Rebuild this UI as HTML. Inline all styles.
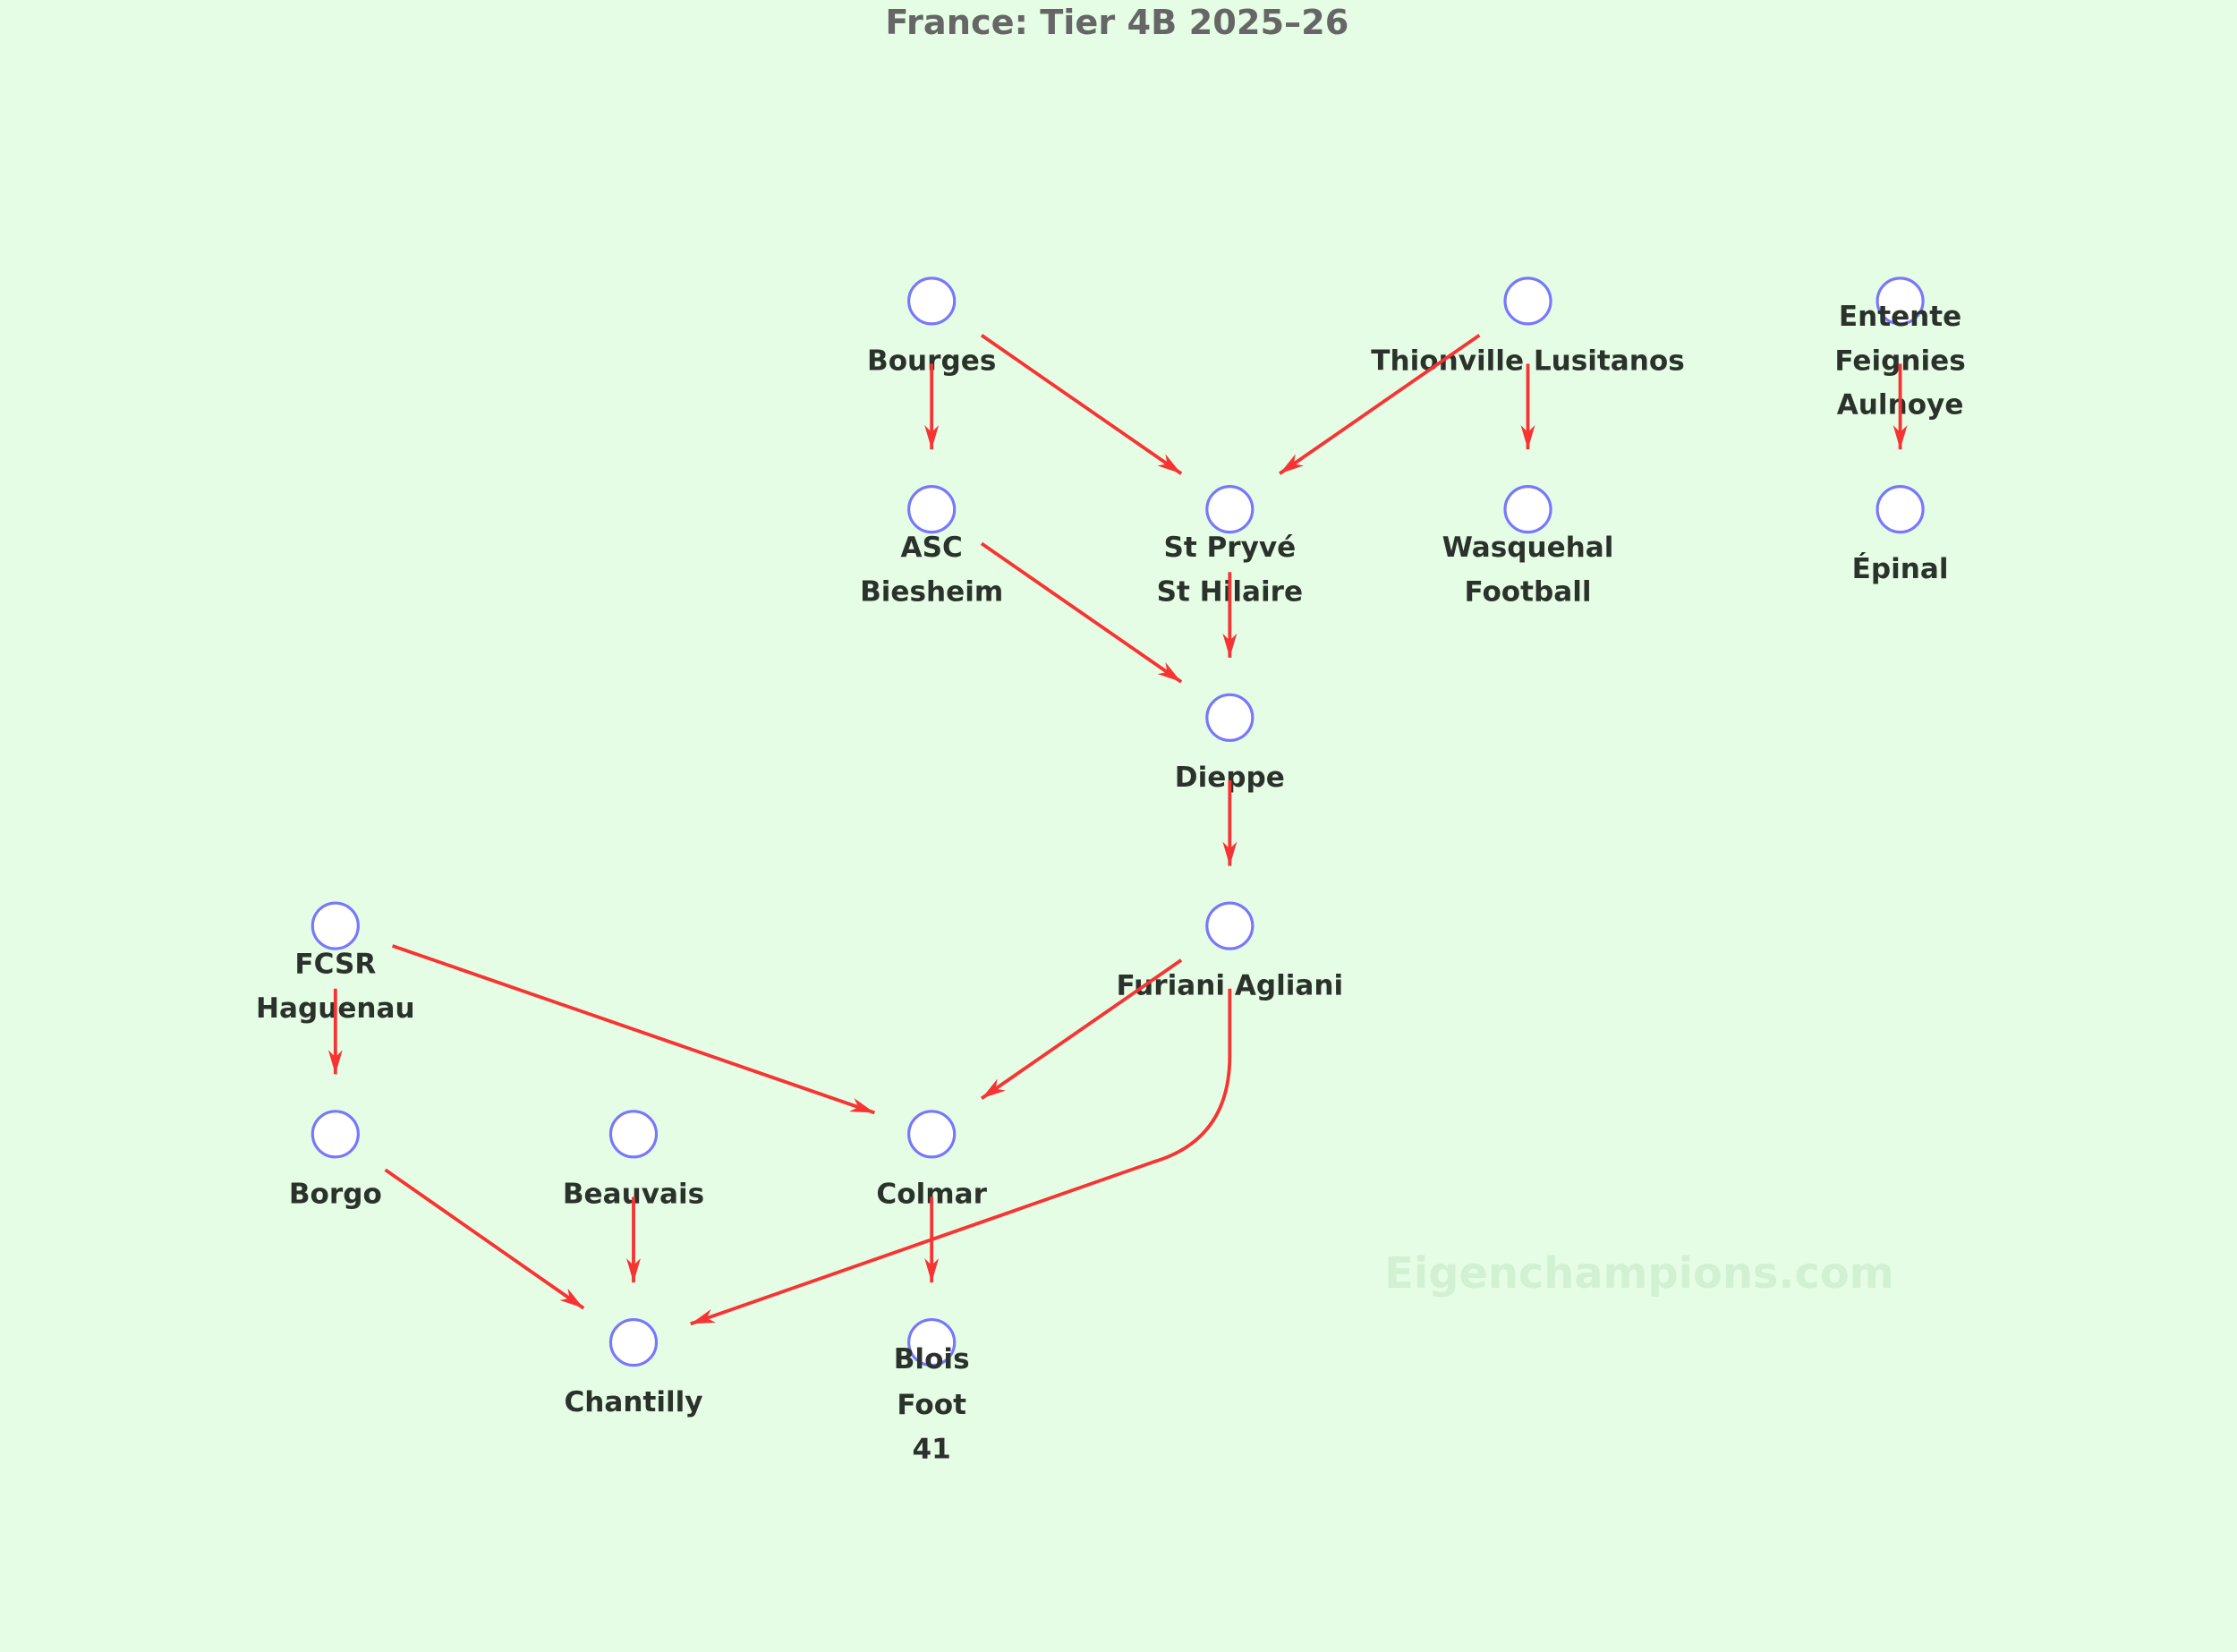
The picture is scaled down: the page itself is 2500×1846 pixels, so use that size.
<!DOCTYPE html>
<html><head><meta charset="utf-8"><style>
html,body{margin:0;padding:0;background:#e5fde5;}
svg{display:block;}
text{font-family:"DejaVu Sans","Liberation Sans",sans-serif;font-weight:bold;}
</style></head><body>
<svg width="2500" height="1846" viewBox="0 0 1568 1158" xmlns="http://www.w3.org/2000/svg">
<rect width="1568" height="1158" fill="#e5fde5"/>
<defs>
<marker id="a" viewBox="0 0 17 10" refX="17" refY="5" markerWidth="17" markerHeight="10" markerUnits="userSpaceOnUse" orient="auto">
<path d="M0,0 L17,5 L0,10 L5,5 Z" fill="#f83333"/>
</marker>
</defs>
<text x="783" y="16" text-anchor="middle" dominant-baseline="central" font-size="24" fill="#666">France: Tier 4B 2025–26</text>
<text x="1149" y="893" text-anchor="middle" dominant-baseline="central" font-size="30" fill="#d2f0d2">Eigenchampions.com</text>
<g fill="#fff" stroke="#7777ff" stroke-width="2">
<circle cx="653" cy="211" r="16"/><circle cx="1071" cy="211" r="16"/><circle cx="1332" cy="211" r="16"/>
<circle cx="653" cy="357" r="16"/><circle cx="862" cy="357" r="16"/><circle cx="1071" cy="357" r="16"/><circle cx="1332" cy="357" r="16"/>
<circle cx="862" cy="503" r="16"/>
<circle cx="235" cy="649" r="16"/><circle cx="862" cy="649" r="16"/>
<circle cx="235" cy="795" r="16"/><circle cx="444" cy="795" r="16"/><circle cx="653" cy="795" r="16"/>
<circle cx="444" cy="941" r="16"/><circle cx="653" cy="941" r="16"/>
</g>
<g font-size="19.5" fill="#2b322b" text-anchor="middle" dominant-baseline="central">
<text x="653" y="253">Bourges</text>
<text x="1071" y="253">Thionville Lusitanos</text>
<text x="1332" y="222">Entente</text><text x="1332" y="253">Feignies</text><text x="1332" y="284">Aulnoye</text>
<text x="653" y="384">ASC</text><text x="653" y="415">Biesheim</text>
<text x="862" y="384">St Pryvé</text><text x="862" y="415">St Hilaire</text>
<text x="1071" y="384">Wasquehal</text><text x="1071" y="415">Football</text>
<text x="1332" y="399">Épinal</text>
<text x="862" y="545">Dieppe</text>
<text x="235" y="676">FCSR</text><text x="235" y="707">Haguenau</text>
<text x="862" y="691">Furiani Agliani</text>
<text x="235" y="837">Borgo</text>
<text x="444" y="837">Beauvais</text>
<text x="653" y="837">Colmar</text>
<text x="444" y="983">Chantilly</text>
<text x="653" y="953">Blois</text><text x="653" y="985">Foot</text><text x="653" y="1016">41</text>
</g>
<g stroke="#f83333" stroke-width="2.4" fill="none" marker-end="url(#a)">
<line x1="653" y1="255" x2="653" y2="315"/>
<line x1="688" y1="235" x2="828" y2="332"/>
<line x1="1037" y1="235" x2="897" y2="332"/>
<line x1="1071" y1="255" x2="1071" y2="315"/>
<line x1="1332" y1="255" x2="1332" y2="315"/>
<line x1="688" y1="381" x2="828" y2="478"/>
<line x1="862" y1="401" x2="862" y2="461"/>
<line x1="862" y1="547" x2="862" y2="607"/>
<line x1="828" y1="673" x2="688" y2="770"/>
<path d="M862,693 L862,740 Q862,798 810,814 L484,928"/>
<line x1="275" y1="663" x2="613" y2="780"/>
<line x1="235" y1="693" x2="235" y2="753"/>
<line x1="270" y1="820" x2="409" y2="917"/>
<line x1="444" y1="839" x2="444" y2="899"/>
<line x1="653" y1="839" x2="653" y2="899"/>
</g>
</svg>
</body></html>
